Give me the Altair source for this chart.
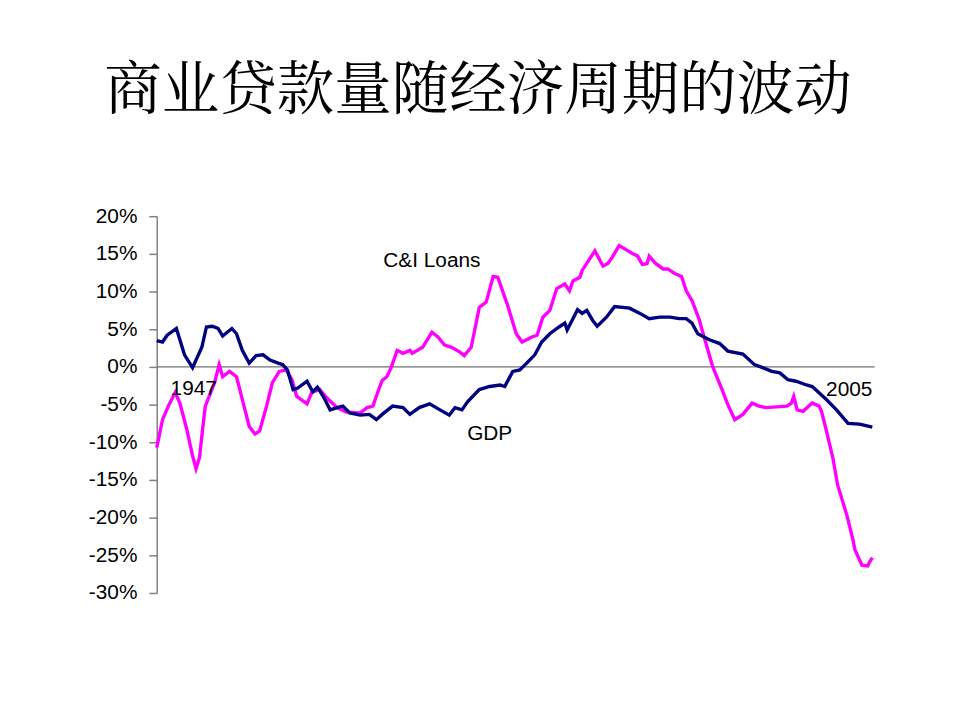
import altair as alt
import pandas as pd

# GDP series (year, % deviation)
gdp_year = [1947.0, 1947.5, 1947.9, 1948.7, 1949.4, 1950.1, 1950.9, 1951.3, 1951.8, 1952.3,
            1952.7, 1953.5, 1953.9, 1954.4, 1955.0, 1955.6, 1956.2, 1956.8, 1957.5, 1957.9,
            1958.3, 1958.8, 1959.2, 1960.0, 1960.5, 1960.9, 1961.4, 1962.0, 1962.6, 1963.1,
            1963.7, 1964.6, 1965.4, 1966.0, 1966.5, 1967.4, 1968.3, 1968.9, 1969.7, 1970.6,
            1971.5, 1972.3, 1972.8, 1973.4, 1973.9, 1974.9, 1975.8, 1976.7, 1977.1, 1977.8,
            1978.4, 1979.0, 1979.7, 1980.3, 1981.0, 1981.8, 1982.3, 1982.5, 1983.0, 1983.4,
            1983.8, 1984.2, 1984.7, 1985.1, 1985.9, 1986.6, 1987.9, 1988.8, 1989.6, 1990.5,
            1991.4, 1992.2, 1992.8, 1993.3, 1993.8, 1994.8, 1995.7, 1996.4, 1997.7, 1998.7,
            1999.4, 2000.2, 2000.9, 2001.6, 2002.3, 2003.2, 2003.7, 2004.9, 2005.8, 2006.8,
            2007.8, 2008.9]
gdp_val = [3.5, 3.3, 4.2, 5.1, 1.6, -0.1, 2.6, 5.3, 5.4, 5.1,
           4.1, 5.1, 4.4, 2.2, 0.5, 1.5, 1.6, 0.9, 0.5, 0.3,
           -0.4, -3.0, -2.8, -1.9, -3.3, -2.7, -3.9, -5.7, -5.4, -5.2,
           -6.1, -6.4, -6.3, -7.0, -6.3, -5.2, -5.4, -6.3, -5.4, -4.9,
           -5.7, -6.4, -5.4, -5.7, -4.6, -3.0, -2.6, -2.4, -2.6, -0.6,
           -0.4, 0.5, 1.6, 3.3, 4.4, 5.3, 5.8, 4.9, 6.4, 7.6,
           7.1, 7.5, 6.2, 5.4, 6.6, 8.0, 7.8, 7.1, 6.4, 6.6,
           6.6, 6.4, 6.4, 5.8, 4.4, 3.6, 3.1, 2.1, 1.7, 0.3,
           -0.1, -0.6, -0.8, -1.7, -1.9, -2.4, -2.6, -4.3, -5.7, -7.5,
           -7.6, -8.0]

# C&I Loans series (year, % deviation)
loan_year = [1947.0, 1947.5, 1948.0, 1948.6, 1949.0, 1949.6, 1950.1, 1950.4, 1950.7, 1950.95,
             1951.2, 1952.0, 1952.4, 1952.7, 1953.3, 1953.9, 1954.4, 1955.0, 1955.5, 1955.9,
             1956.5, 1957.0, 1957.6, 1958.2, 1958.7, 1959.1, 1960.0, 1960.4, 1961.1, 1961.7,
             1962.6, 1963.4, 1964.6, 1965.2, 1965.7, 1966.2, 1966.5, 1966.9, 1967.3, 1967.8,
             1968.3, 1968.9, 1969.1, 1970.0, 1970.8, 1971.3, 1971.9, 1972.5, 1973.2, 1973.6,
             1974.2, 1974.9, 1975.5, 1976.1, 1976.5, 1977.3, 1978.1, 1978.6, 1979.5, 1979.9,
             1980.4, 1981.0, 1981.6, 1982.3, 1982.7, 1983.0, 1983.6, 1983.8, 1984.9, 1985.6,
             1986.0, 1986.3, 1987.0, 1988.2, 1988.6, 1989.0, 1989.4, 1989.6, 1990.1, 1990.8,
             1991.2, 1991.8, 1992.4, 1992.8, 1993.3, 1993.9, 1994.6, 1995.1, 1995.9, 1996.4,
             1997.0, 1997.7, 1998.5, 1999.1, 1999.7, 2000.6, 2001.5, 2001.9, 2002.1, 2002.4,
             2002.9, 2003.7, 2004.3, 2004.5, 2004.9, 2005.5, 2005.9, 2006.7, 2007.2, 2007.4,
             2008.0, 2008.5, 2008.7, 2008.9]
loan_val = [-10.7, -7.0, -5.2, -3.4, -4.8, -8.3, -11.8, -13.5, -12.0, -8.5,
            -5.2, -2.1, 0.3, -1.3, -0.6, -1.3, -4.3, -7.9, -8.9, -8.5,
            -5.2, -2.1, -0.6, -0.4, -1.7, -3.9, -4.9, -3.4, -3.0, -4.1,
            -5.4, -6.0, -6.1, -5.4, -5.2, -3.0, -1.8, -1.3, 0.0, 2.2,
            1.8, 2.2, 1.8, 2.6, 4.6, 4.0, 2.9, 2.6, 2.0, 1.5,
            2.6, 7.9, 8.6, 12.0, 11.9, 8.4, 4.4, 3.3, 4.0, 4.2,
            6.6, 7.5, 10.4, 11.0, 10.1, 11.4, 11.9, 12.8, 15.4, 13.4,
            13.7, 14.3, 16.1, 15.0, 14.7, 13.6, 13.7, 14.7, 13.8, 13.0,
            13.0, 12.4, 12.0, 10.1, 8.8, 6.4, 2.6, 0.0, -3.0, -5.0,
            -7.0, -6.3, -4.8, -5.2, -5.4, -5.3, -5.2, -4.8, -3.9, -5.7,
            -5.9, -4.8, -5.2, -5.9, -8.3, -12.2, -15.7, -19.7, -22.8, -24.3,
            -26.3, -26.4, -25.8, -25.3]

# Annotation labels
label_text = ["C&I Loans", "GDP", "1947", "2005"]
label_year = [1970.8, 1975.8, 1950.2, 2006.9]
label_val = [14.1, -8.9, -3.0, -3.1]

y_ticks = [20, 15, 10, 5, 0, -5, -10, -15, -20, -25, -30]

gdp_df = pd.DataFrame({"year": gdp_year, "value": gdp_val})
loan_df = pd.DataFrame({"year": loan_year, "value": loan_val})
lab_df = pd.DataFrame({"year": label_year, "value": label_val, "text": label_text})

xs = alt.Scale(domain=[1947, 2009.1], nice=False, zero=False)
ys = alt.Scale(domain=[-30, 20], nice=False)

yaxis = alt.Axis(values=y_ticks, labelExpr="datum.value + '%'", grid=False,
                 domainColor="#808080", tickColor="#808080", tickSize=8,
                 labelPadding=12, labelFontSize=21, labelFont="Liberation Sans",
                 labelColor="black", title=None, domainWidth=1.5, tickWidth=1.5)

zero = alt.Chart(pd.DataFrame({"v": [0]})).mark_rule(color="#707070", strokeWidth=1.2).encode(
    y=alt.Y("v:Q", scale=ys, axis=yaxis)
)

loans = alt.Chart(loan_df).mark_line(color="#FF00FF", strokeWidth=3.4).encode(
    x=alt.X("year:Q", scale=xs, axis=None),
    y=alt.Y("value:Q", scale=ys, axis=yaxis),
)

gdp = alt.Chart(gdp_df).mark_line(color="#000080", strokeWidth=3.4).encode(
    x=alt.X("year:Q", scale=xs, axis=None),
    y=alt.Y("value:Q", scale=ys, axis=yaxis),
)

labels = alt.Chart(lab_df).mark_text(font="Liberation Sans", fontSize=21, color="black",
                                     align="center", baseline="middle").encode(
    x=alt.X("year:Q", scale=xs, axis=None),
    y=alt.Y("value:Q", scale=ys, axis=yaxis),
    text="text:N",
)

chart = alt.layer(zero, loans, gdp, labels).properties(
    width=724, height=380,
    background="white",
    autosize=alt.AutoSizeParams(type="none"),
    padding={"left": 150, "top": 207, "right": 78, "bottom": 110},
    title=alt.TitleParams("商业贷款量随经济周期的波动",
                          font="Noto Serif CJK SC, Noto Sans CJK SC",
                          fontSize=58, fontWeight="normal", color="black",
                          anchor="middle", dx=-38, offset=39, baseline="alphabetic"),
).configure_view(stroke=None, strokeWidth=0)

chart.save("out.html", embed_options={"renderer": "svg", "actions": False})
